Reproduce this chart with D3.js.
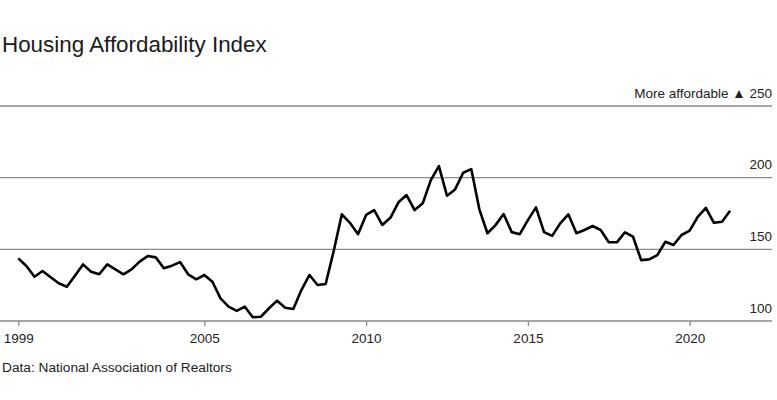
<!DOCTYPE html>
<html>
<head>
<meta charset="utf-8">
<script src="https://cdn.jsdelivr.net/npm/d3@7"></script>
<style>
  body { margin: 0; background: #fff; }
  text { font-family: "Liberation Sans", Arial, sans-serif; }
</style>
</head>
<body>
<div class="chart"></div>
<script>
// quarterly index, 1999 Q1 .. 2021 Q1
var startYear = 1999.25;
var values = [143.7, 138.4, 130.9, 134.9, 130.5, 126.3, 123.9, 131.6, 139.5, 134.4,
  132.6, 139.5, 136.0, 132.6, 136.0, 141.4, 145.3, 144.4, 136.8, 138.6,
  141.1, 132.6, 129.1, 132.1, 127.4, 115.8, 110.0, 107.0, 110.0, 102.6,
  103.0, 108.9, 114.2, 109.3, 108.4, 121.6, 132.1, 125.1, 125.8, 149.0,
  174.4, 168.5, 160.6, 174.0, 177.4, 167.0, 172.0, 182.8, 187.9, 177.4,
  182.1, 198.3, 208.1, 187.4, 191.8, 203.4, 206.0, 177.9, 161.2, 166.9,
  174.6, 162.0, 160.6, 170.4, 179.3, 162.0, 159.4, 168.1, 174.4, 161.2,
  163.5, 166.3, 163.5, 154.9, 154.9, 161.9, 158.8, 142.5, 143.0, 146.0,
  155.3, 153.0, 160.0, 163.0, 172.7, 179.0, 168.5, 169.3, 176.9];

var xTicks = [1999.25, 2005, 2010, 2015, 2020];
var xTickLabels = ["1999", "2005", "2010", "2015", "2020"];
var yTicks = [100, 150, 200, 250];

var width = 777;
var height = 400;

var svg = d3.select(".chart").append("svg")
    .attr("width", width)
    .attr("height", height)
    .attr("display", "block");

var x = d3.scaleLinear()
    .domain([startYear, startYear + (values.length - 1) / 4])
    .range([18.3, 730.1]);

var y = d3.scaleLinear()
    .domain([100, 250])
    .range([321, 106]);

// title
svg.append("text")
    .attr("x", 2)
    .attr("y", 52)
    .attr("font-size", "22.4px")
    .attr("fill", "#1a1a1a")
    .text("Housing Affordability Index");

// gridlines with right-hand labels
var grid = svg.append("g");
grid.selectAll("line").data(yTicks).enter().append("line")
    .attr("x1", 0)
    .attr("x2", 772)
    .attr("y1", function(d) { return y(d); })
    .attr("y2", function(d) { return y(d); })
    .attr("stroke", "#8a8a8a")
    .attr("stroke-width", 1.3);

grid.selectAll("text").data(yTicks).enter().append("text")
    .attr("x", 772)
    .attr("y", function(d) { return y(d) - 8.5; })
    .attr("text-anchor", "end")
    .attr("font-size", "13.5px")
    .attr("fill", "#222")
    .text(function(d) { return d === 250 ? "More affordable \u25B2 250" : d; });

// x axis
var xAxis = d3.axisBottom(x)
    .tickValues(xTicks)
    .tickFormat(function(d, i) { return xTickLabels[i]; })
    .tickSize(5)
    .tickPadding(7);

var gx = svg.append("g")
    .attr("transform", "translate(0," + y(100) + ")")
    .call(xAxis);
gx.select(".domain").remove();
gx.selectAll(".tick line").attr("stroke", "#8a8a8a").attr("stroke-width", 1.3);
gx.selectAll(".tick text")
    .attr("font-size", "13.5px")
    .attr("font-family", "Liberation Sans, Arial, sans-serif")
    .attr("fill", "#222");

// the line
var line = d3.line()
    .x(function(d, i) { return x(startYear + i / 4); })
    .y(function(d) { return y(d); });

svg.append("path")
    .datum(values)
    .attr("d", line)
    .attr("fill", "none")
    .attr("stroke", "#000")
    .attr("stroke-width", 2.6)
    .attr("stroke-linejoin", "round");

// source
svg.append("text")
    .attr("x", 2)
    .attr("y", 372)
    .attr("font-size", "13.7px")
    .attr("fill", "#222")
    .text("Data: National Association of Realtors");
</script>
</body>
</html>
